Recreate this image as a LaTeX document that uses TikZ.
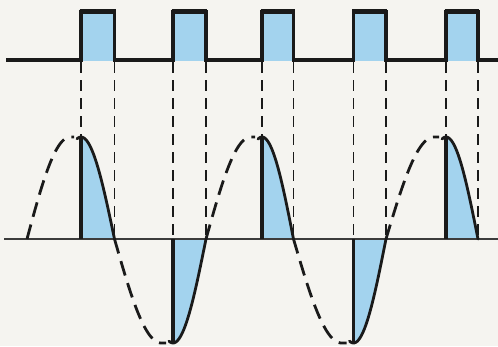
\documentclass[tikz,border=0pt]{standalone}
\definecolor{paper}{HTML}{F5F4F0}
\definecolor{pulse}{HTML}{A3D3EE}
\definecolor{ink}{HTML}{1A1A1A}
\begin{document}
\begin{tikzpicture}[x=1pt,y=-1pt,
  outline/.style={ink, line width=3.1pt, line join=miter},
  topedge/.style={ink, line width=5.2pt},
  wave/.style={ink, line width=2.8pt, line cap=round},
  wavedash/.style={ink, line width=2.8pt, dash pattern=on 15pt off 8pt},
  proj/.style={ink, line width=1.8pt, dash pattern=on 11pt off 7pt},
  axisline/.style={ink!85, line width=1.5pt},
  edge/.style={ink, line width=3.2pt}]
\fill[paper] (0,0) rectangle (498,346);
\useasboundingbox (0,0) rectangle (498,346);

% pulses: fills
\foreach \pl/\pr in {81/114.5,173/206,262/293.5,353.5/386,446/478}
  \fill[pulse] (\pl,12) rectangle (\pr,60.5);

% pulse train outline
\draw[outline] (6,60) -- (81,60) -- (81,12) -- (114.5,12) -- (114.5,60)
  -- (173,60) -- (173,12) -- (206,12) -- (206,60)
  -- (262,60) -- (262,12) -- (293.5,12) -- (293.5,60)
  -- (353.5,60) -- (353.5,12) -- (386,12) -- (386,60)
  -- (446,60) -- (446,12) -- (478,12) -- (478,60) -- (498,60);
\foreach \pl/\pr in {81/114.5,173/206,262/293.5,353.5/386,446/478}
  \draw[topedge] (\pl-1.4,11.8) -- (\pr+1.4,11.8);

% shaded sampled parts
\foreach \pl/\pr/\pa in {81/114.5/-102,173/206/104,262/293.5/-102,353.5/386/104,446/478/-102}
  \fill[pulse] (\pl,239) -- plot[domain=\pl:\pr, samples=30]
    (\x,{239+\pa*cos(90*(\x-\pl)/(\pr-\pl))}) -- cycle;

% axis
\draw[axisline] (4,239) -- (498,239);

% projection lines
\foreach \pl/\py in {81/137,173/239,262/137,353.5/239,446/137}
  \draw[proj] (\pl,62) -- (\pl,\py);
\foreach \pr in {114.5,206,293.5,386,478}
  \draw[proj] (\pr,62) -- (\pr,239);

% dashed parts of the wave
\foreach \zs/\pe/\de/\pa in {27/81/74/-102,114.5/173/166/104,206/262/255/-102,293.5/353.5/346.5/104,386/446/439/-102}
  \draw[wavedash] plot[domain=\zs:\de, samples=40]
    (\x,{239+\pa*sin(90*min(1,(\x-\zs)/(0.8*(\pe-\zs))))});

% solid parts of the wave
\foreach \pl/\ps/\pr/\pa in {81/77/114.5/-102,173/169/206/104,262/258/293.5/-102,353.5/349.5/386/104,446/442/478/-102}
  \draw[wave] plot[domain=\ps:\pr, samples=30]
    (\x,{239+\pa*cos(90*(\x-\pl)/(\pr-\pl))});

% solid verticals
\foreach \pl/\py in {81/137,173/343,262/137,353.5/343,446/137}
  \draw[edge] (\pl,239) -- (\pl,\py);
\end{tikzpicture}
\end{document}
